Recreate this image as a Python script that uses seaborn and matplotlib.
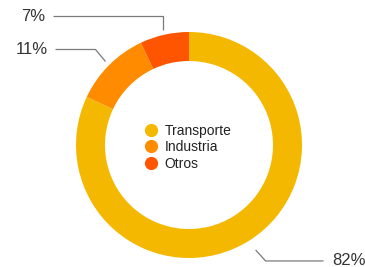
import numpy as np
import matplotlib
matplotlib.use('Agg')
import matplotlib.pyplot as plt
from matplotlib.lines import Line2D
import seaborn as sns

sns.set_theme(style="white")
plt.rcParams['font.family'] = ['Liberation Sans', 'DejaVu Sans']

# data
sectors = ['Transporte', 'Industria', 'Otros']
shares = [82, 11, 7]
colors = ['#F5B800', '#FF8C00', '#FF5500']

W, H = 365, 267
fig = plt.figure(figsize=(W / 100, H / 100), dpi=100)
ax = fig.add_axes([0, 0, 1, 1])

cx, cy, R = 189, H - 145, 113
wedges, _ = ax.pie(shares, colors=colors, startangle=90, counterclock=False,
                   center=(cx, cy), radius=R, frame=True,
                   wedgeprops=dict(width=29, edgecolor='none'))
ax.set_xlim(0, W)
ax.set_ylim(0, H)
ax.set_aspect('equal')
ax.axis('off')

# leader lines + labels (offsets in px relative to wedge midpoint)
label_layout = {
    'Transporte': dict(r=1.1, elbow=(10, -11), dx=68, ha='left'),
    'Industria': dict(r=1.045, elbow=(-10, 12), dx=-50, ha='right'),
    'Otros': dict(r=1.04, elbow=(0, 14), dx=-110, ha='right'),
}
for w, name, s in zip(wedges, sectors, shares):
    ang = np.deg2rad((w.theta1 + w.theta2) / 2)
    lay = label_layout[name]
    x0 = cx + R * lay['r'] * np.cos(ang)
    y0 = cy + R * lay['r'] * np.sin(ang)
    ex, ey = lay['elbow']
    x1, y1 = x0 + ex, y0 + ey
    x2 = x0 + lay['dx']
    ax.plot([x0, x1, x2], [y0, y1, y1], color='#7a7a7a', lw=0.9,
            solid_capstyle='butt')
    off = 9 if lay['ha'] == 'left' else -8
    ax.text(x2 + off, y1, f"{s}%", ha=lay['ha'], va='center',
            fontsize=12, color='#333333')

handles = [Line2D([], [], marker='o', ls='none', markersize=9.5,
                  markerfacecolor=c, markeredgecolor='none') for c in colors]
leg = ax.legend(handles, sectors, loc='center',
                bbox_to_anchor=(188 / W, (H - 147) / H),
                bbox_transform=ax.transAxes, frameon=False, fontsize=10,
                handletextpad=0.5, labelspacing=0.18, handlelength=0.9,
                borderpad=0, borderaxespad=0)
for t in leg.get_texts():
    t.set_color('#222222')

fig.savefig('out.png', dpi=100)
